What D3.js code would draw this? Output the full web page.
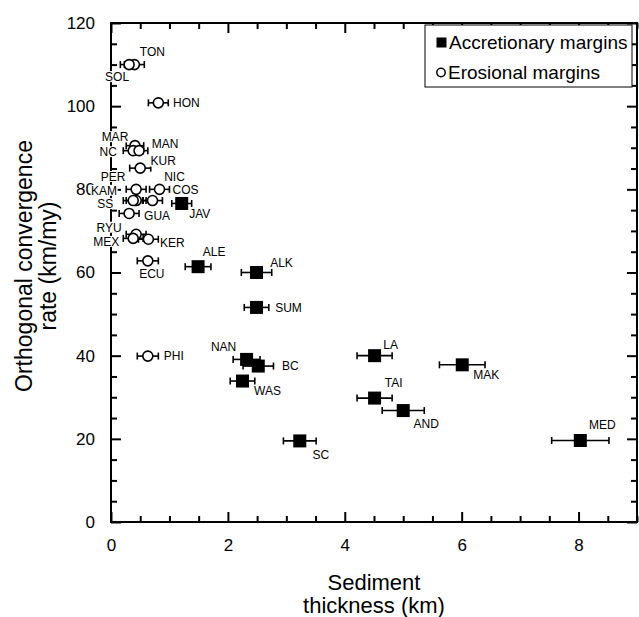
<!DOCTYPE html>
<html>
<head>
<meta charset="utf-8">
<script src="https://cdn.jsdelivr.net/npm/d3@7"></script>
<style>
  html, body { margin: 0; padding: 0; background: #fff; }
  svg { display: block; font-family: "Liberation Sans", Arial, Helvetica, sans-serif; }
</style>
</head>
<body>
<svg id="chart" width="639" height="617"></svg>
<script>
// ---------------- DATA ----------------
const accCodes     = ["JAV","ALE","ALK","SUM","NAN","BC","WAS","LA","TAI","AND","MAK","SC","MED"];
const accThickness = [1.21, 1.49, 2.49, 2.49, 2.32, 2.52, 2.25, 4.51, 4.51, 5.00, 6.01, 3.23, 8.03];
const accRate      = [76.6, 61.4, 60.0, 51.6, 39.1, 37.5, 33.9, 40.0, 29.8, 26.8, 37.8, 19.5, 19.6];
const accErr       = [0.17, 0.22, 0.26, 0.21, 0.23, 0.26, 0.21, 0.30, 0.30, 0.36, 0.39, 0.28, 0.49];

const eroCodes     = ["TON","SOL","HON","MAR","NC","MAN","KUR","PER","KAM","NIC","COS","SS","GUA","RYU","MEX","KER","ECU","PHI"];
const eroThickness = [0.40, 0.31, 0.81, 0.41, 0.38, 0.48, 0.50, 0.43, 0.43, 0.83, 0.71, 0.38, 0.31, 0.43, 0.38, 0.64, 0.63, 0.63];
const eroRate      = [110.0,110.0,100.8,90.5, 89.3, 89.3, 85.1, 77.3, 80.0, 80.0, 77.3, 77.3, 74.2, 69.2, 68.2, 68.0, 62.8, 39.9];
const eroErr       = [0.17, 0.15, 0.17, 0.15, 0.17, 0.15, 0.18, 0.17, 0.17, 0.17, 0.17, 0.17, 0.17, 0.17, 0.17, 0.17, 0.18, 0.18];

const xMajorTicks = [0, 2, 4, 6, 8];
const yMajorTicks = [0, 20, 40, 60, 80, 100, 120];
const legendLabels = ["Accretionary margins", "Erosional margins"];
const xTitle = ["Sediment", "thickness (km)"];
const yTitle = ["Orthogonal convergence", "rate (km/my)"];

// ---------------- LAYOUT (label offsets from marker centre, px) ----------------
const labelOffset = {
  TON:[18,-13], SOL:[-12,12], HON:[28,0], MAR:[-20,-9], NC:[-25,1], MAN:[26,-7],
  KUR:[23,-7], PER:[-23,-24], KAM:[-32,1], NIC:[15,-13], COS:[33,-11], SS:[-28,3],
  GUA:[28,2], RYU:[-27,-7], MEX:[-27,3], KER:[24,3], ECU:[4,13], PHI:[26,0],
  JAV:[18,10], ALE:[16,-15], ALK:[25,-10], SUM:[32,0], NAN:[-23,-13], BC:[32,0],
  WAS:[25,10], LA:[16,-11], TAI:[19,-15], AND:[23,13], MAK:[24,10], MED:[22,-16], SC:[21,14]
};

const plot = { left: 111, right: 637, top: 23, bottom: 522 };

const svg = d3.select("#chart");
const x = d3.scaleLinear().domain([0, 9]).range([plot.left, plot.right]);
const y = d3.scaleLinear().domain([0, 120]).range([plot.bottom, plot.top]);

const xMinor = d3.range(0, 9.001, 0.5).filter(v => !xMajorTicks.includes(v));
const yMinor = d3.range(0, 120.001, 5).filter(v => !yMajorTicks.includes(v));

function styleAxis(g) {
  g.select(".domain").remove();
  g.selectAll(".tick line").attr("stroke", "#000").attr("stroke-width", 2);
  g.selectAll(".tick text").attr("fill", "#000").attr("font-size", 17);
}

// bottom
svg.append("g").attr("transform", `translate(0,${plot.bottom})`)
  .call(d3.axisBottom(x).tickValues(xMajorTicks).tickSize(-10).tickPadding(17).tickFormat(d3.format("d")))
  .call(styleAxis);
svg.append("g").attr("transform", `translate(0,${plot.bottom})`)
  .call(d3.axisBottom(x).tickValues(xMinor).tickSize(-6).tickFormat(""))
  .call(styleAxis);
// top
svg.append("g").attr("transform", `translate(0,${plot.top})`)
  .call(d3.axisTop(x).tickValues(xMajorTicks).tickSize(-10).tickFormat(""))
  .call(styleAxis);
svg.append("g").attr("transform", `translate(0,${plot.top})`)
  .call(d3.axisTop(x).tickValues(xMinor).tickSize(-6).tickFormat(""))
  .call(styleAxis);
// left
svg.append("g").attr("transform", `translate(${plot.left},0)`)
  .call(d3.axisLeft(y).tickValues(yMajorTicks).tickSize(-10).tickPadding(16).tickFormat(d3.format("d")))
  .call(styleAxis);
svg.append("g").attr("transform", `translate(${plot.left},0)`)
  .call(d3.axisLeft(y).tickValues(yMinor).tickSize(-6).tickFormat(""))
  .call(styleAxis);
// right
svg.append("g").attr("transform", `translate(${plot.right},0)`)
  .call(d3.axisRight(y).tickValues(yMajorTicks).tickSize(-10).tickFormat(""))
  .call(styleAxis);
svg.append("g").attr("transform", `translate(${plot.right},0)`)
  .call(d3.axisRight(y).tickValues(yMinor).tickSize(-6).tickFormat(""))
  .call(styleAxis);

// frame
svg.append("rect")
  .attr("x", plot.left).attr("y", plot.top)
  .attr("width", plot.right - plot.left).attr("height", plot.bottom - plot.top)
  .attr("fill", "none").attr("stroke", "#000").attr("stroke-width", 2);

// axis titles
const xt = svg.append("text").attr("text-anchor", "middle").attr("font-size", 22).attr("fill", "#000");
xt.append("tspan").attr("x", (plot.left + plot.right) / 2).attr("y", 590).text(xTitle[0]);
xt.append("tspan").attr("x", (plot.left + plot.right) / 2).attr("y", 613).text(xTitle[1]);

const yt = svg.append("text").attr("text-anchor", "middle").attr("font-size", 23).attr("fill", "#000")
  .attr("transform", `translate(0,266) rotate(-90)`);
yt.append("tspan").attr("x", 0).attr("y", 32).text(yTitle[0]);
yt.append("tspan").attr("x", 0).attr("y", 56).text(yTitle[1]);

// data tables
const acc = accCodes.map((c, i) => ({ code: c, x: accThickness[i], y: accRate[i], e: accErr[i] }));
const ero = eroCodes.map((c, i) => ({ code: c, x: eroThickness[i], y: eroRate[i], e: eroErr[i] }));
const all = acc.concat(ero);

const marks = svg.append("g");
// error bars
const eb = marks.selectAll("g.eb").data(all).enter().append("g")
  .attr("stroke", "#000").attr("stroke-width", 1.6);
eb.append("line")
  .attr("x1", d => x(d.x - d.e)).attr("x2", d => x(d.x + d.e))
  .attr("y1", d => y(d.y)).attr("y2", d => y(d.y));
eb.append("line")
  .attr("x1", d => x(d.x - d.e)).attr("x2", d => x(d.x - d.e))
  .attr("y1", d => y(d.y) - 3.5).attr("y2", d => y(d.y) + 3.5);
eb.append("line")
  .attr("x1", d => x(d.x + d.e)).attr("x2", d => x(d.x + d.e))
  .attr("y1", d => y(d.y) - 3.5).attr("y2", d => y(d.y) + 3.5);

// squares
marks.selectAll("rect.acc").data(acc).enter().append("rect")
  .attr("x", d => x(d.x) - 6.5).attr("y", d => y(d.y) - 6.5)
  .attr("width", 13).attr("height", 13).attr("fill", "#000");
// circles
marks.selectAll("circle.ero").data(ero).enter().append("circle")
  .attr("cx", d => x(d.x)).attr("cy", d => y(d.y)).attr("r", 5)
  .attr("fill", "#fff").attr("stroke", "#000").attr("stroke-width", 1.6);

// labels with white backgrounds
const lab = svg.append("g");
all.forEach(d => {
  const off = labelOffset[d.code] || [15, 0];
  const cx = x(d.x) + off[0], cy = y(d.y) + off[1];
  const g = lab.append("g");
  const t = g.append("text").attr("x", cx).attr("y", cy).attr("dy", "0.36em")
    .attr("text-anchor", "middle").attr("font-size", 12).attr("fill", "#000").text(d.code);
  const bb = t.node().getBBox();
  g.insert("rect", "text").attr("x", bb.x - 0.5).attr("y", cy - 5.5).attr("width", bb.width + 1)
    .attr("height", 11).attr("fill", "#fff");
});

// legend
const lg = svg.append("g");
lg.append("rect").attr("x", 425).attr("y", 25).attr("width", 207).attr("height", 62)
  .attr("fill", "#fff").attr("stroke", "#000").attr("stroke-width", 1);
lg.append("rect").attr("x", 436.5).attr("y", 37.5).attr("width", 10).attr("height", 10).attr("fill", "#000");
lg.append("circle").attr("cx", 441).attr("cy", 72.5).attr("r", 4.2)
  .attr("fill", "#fff").attr("stroke", "#000").attr("stroke-width", 1.5);
lg.append("text").attr("x", 449).attr("y", 49).attr("font-size", 19).attr("fill", "#000").text(legendLabels[0]);
lg.append("text").attr("x", 448).attr("y", 79).attr("font-size", 19).attr("fill", "#000").text(legendLabels[1]);
</script>
</body>
</html>
